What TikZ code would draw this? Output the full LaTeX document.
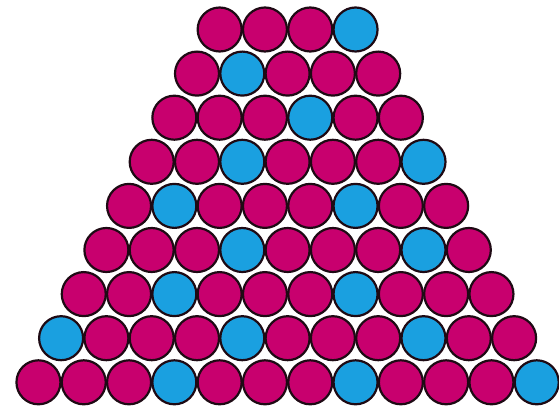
\documentclass[tikz,border=0pt]{standalone}
\usetikzlibrary{calc}

\definecolor{m}{HTML}{C8006E}
\definecolor{s}{HTML}{1AA0E0}
\definecolor{rim}{HTML}{1E0A14}

\begin{document}
\begin{tikzpicture}[
  x=1pt, y=1pt,
  ball/.style={circle, draw=rim, line width=2.2pt, inner sep=0pt, minimum size=44pt},
]
\useasboundingbox (0,0) rectangle (559,415);

% === rows of balls, top (4) to bottom (12) ===
\foreach \r/\cols in {
    1/{m,m,m,s},
    2/{m,s,m,m,m},
    3/{m,m,m,s,m,m},
    4/{m,m,s,m,m,m,s},
    5/{m,s,m,m,m,s,m,m},
    6/{m,m,m,s,m,m,m,s,m},
    7/{m,m,s,m,m,m,s,m,m,m},
    8/{s,m,m,m,s,m,m,m,s,m,m},
    9/{m,m,m,s,m,m,m,s,m,m,m,s}}{
  \foreach \c [count=\i] in \cols {
    \node[ball, fill=\c] (ball-\r-\i) at ({287.6+(\i-(\r+4)/2)*45.3}, {385.5-(\r-1)*44.1}) {};
  }
}

\end{tikzpicture}
\end{document}
